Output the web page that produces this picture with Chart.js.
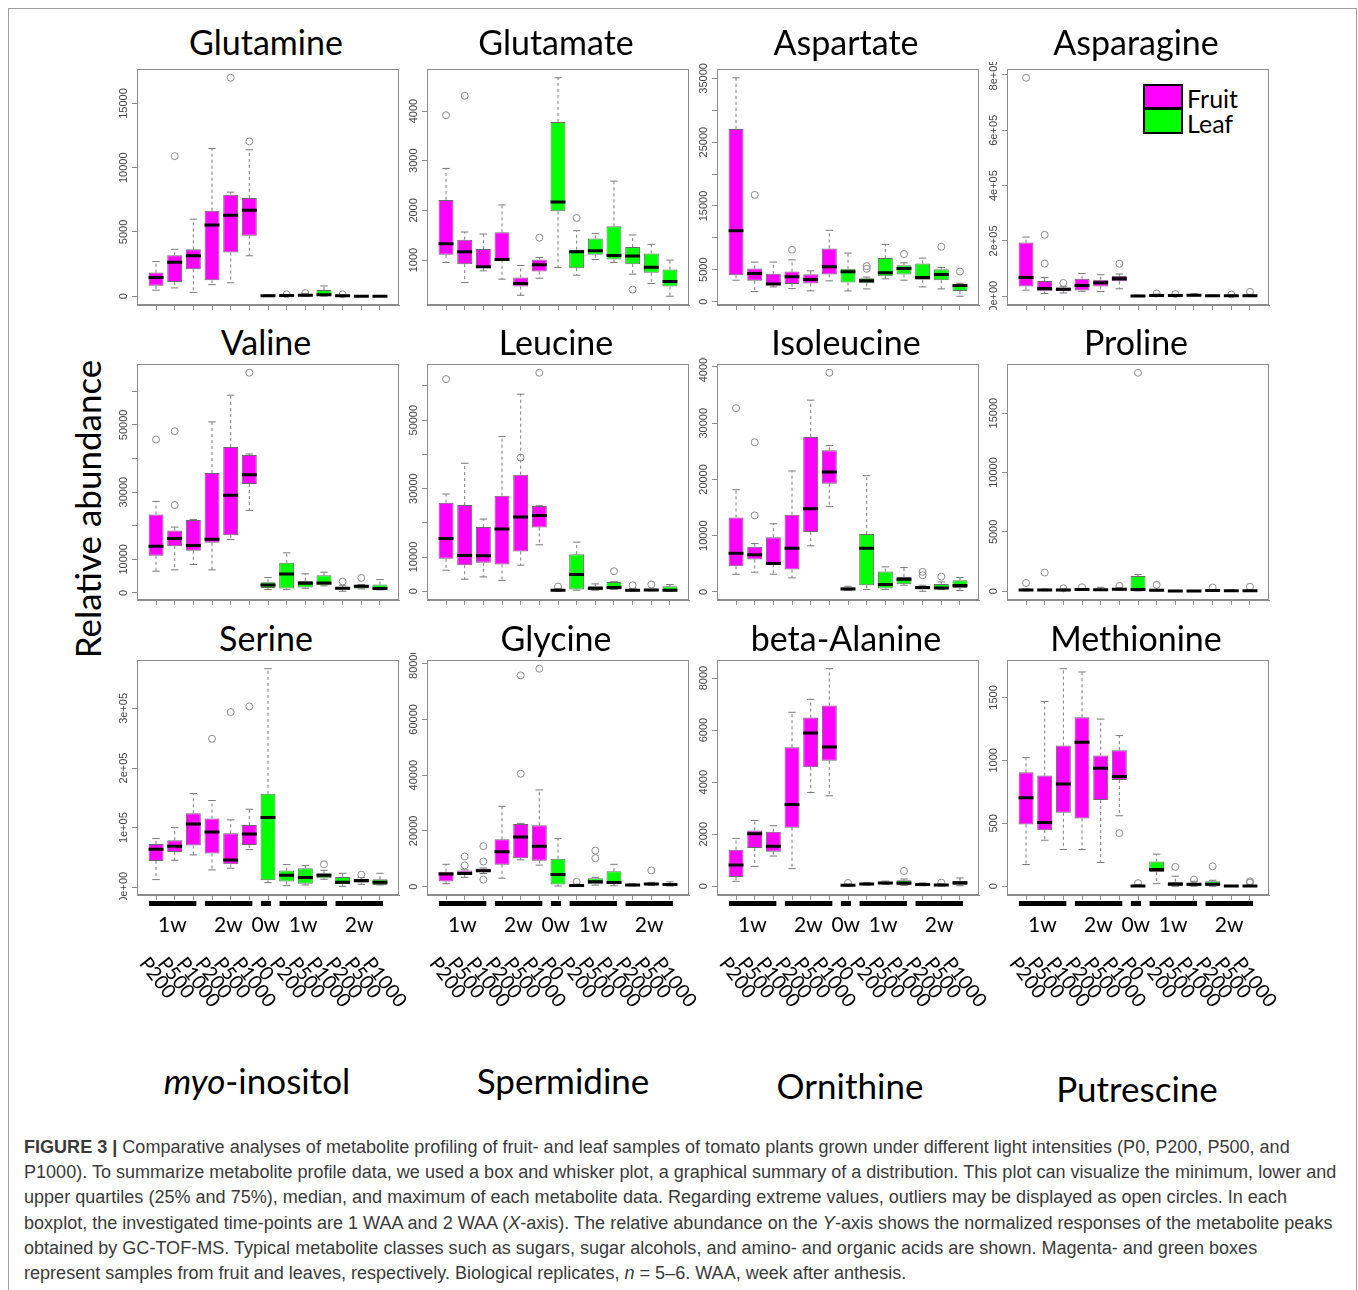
<!DOCTYPE html>
<html>
<head>
<meta charset="utf-8">
<title>Figure 3 – metabolite boxplots</title>
<script src="https://cdn.jsdelivr.net/npm/chart.js@4.4.1/dist/chart.umd.min.js"></script>
<style>
html,body{margin:0;padding:0;background:#fff;}
body{position:relative;width:1358px;height:1290px;overflow:hidden;}
#frame{position:absolute;left:8px;top:8px;width:1349px;height:1400px;border:1px solid #a0a0a0;box-sizing:border-box;}
canvas{position:absolute;}
.ttl{position:absolute;width:300px;height:44px;line-height:44px;text-align:center;font-family:Lato,"Noto Sans",sans-serif;font-size:34px;color:#000;white-space:nowrap;}
.big{position:absolute;font-family:Lato,"Noto Sans",sans-serif;font-size:35px;color:#000;white-space:nowrap;transform:translate(-50%,-50%);}
#ylab{position:absolute;left:87px;top:509px;transform:translate(-50%,-50%) rotate(-90deg);font-family:Lato,"Noto Sans",sans-serif;font-size:35px;white-space:nowrap;color:#000;}
.legbox{position:absolute;left:1143px;width:40px;height:25px;border:2px solid #000;box-sizing:border-box;}
.legtxt{position:absolute;left:1187px;height:26px;line-height:26px;font-family:Lato,"Noto Sans",sans-serif;font-size:25px;color:#000;}
#caption{position:absolute;left:24px;top:1135px;font-family:"Liberation Sans",Arial,sans-serif;color:#3a3a3a;line-height:25.2px;white-space:nowrap;font-size:16px;}
#caption div span{display:inline-block;}
</style>
</head>
<body>
<div id="frame"></div>
<div id="ylab">Relative abundance</div>

<div class="legbox" style="top:84px;background:#ff00ff;"></div>
<div class="legbox" style="top:109px;background:#00ff00;border-top:1px solid #000;"></div>
<div class="legtxt" style="top:85px;">Fruit</div>
<div class="legtxt" style="top:110px;">Leaf</div>

<div class="big" style="left:257px;top:1080px;"><i>myo</i>-inositol</div>
<div class="big" style="left:563px;top:1080px;">Spermidine</div>
<div class="big" style="left:850px;top:1085px;">Ornithine</div>
<div class="big" style="left:1137px;top:1088px;">Putrescine</div>

<div id="caption">
<div><span id="l1"><b>FIGURE 3 |</b> Comparative analyses of metabolite profiling of fruit- and leaf samples of tomato plants grown under different light intensities (P0, P200, P500, and</span></div>
<div><span id="l2">P1000). To summarize metabolite profile data, we used a box and whisker plot, a graphical summary of a distribution. This plot can visualize the minimum, lower and</span></div>
<div><span>upper quartiles (25% and 75%), median, and maximum of each metabolite data. Regarding extreme values, outliers may be displayed as open circles. In each</span></div>
<div><span>boxplot, the investigated time-points are 1 WAA and 2 WAA (<i>X</i>-axis). The relative abundance on the <i>Y</i>-axis shows the normalized responses of the metabolite peaks</span></div>
<div><span>obtained by GC-TOF-MS. Typical metabolite classes such as sugars, sugar alcohols, and amino- and organic acids are shown. Magenta- and green boxes</span></div>
<div><span>represent samples from fruit and leaves, respectively. Biological replicates, <i>n</i> = 5–6. WAA, week after anthesis.</span></div>
</div>

<script>
// ---------------- DATA ----------------
const CATEGORIES = ['P200','P500','P1000','P200','P500','P1000','P0','P200','P500','P1000','P200','P500','P1000'];
const TISSUE = ['Fruit','Fruit','Fruit','Fruit','Fruit','Fruit','Leaf','Leaf','Leaf','Leaf','Leaf','Leaf','Leaf'];
const GROUP_LABELS = ['1w','2w','0w','1w','2w'];
const GROUP_START = [0,3,6,7,10];
const GROUP_END = [2,5,6,9,12];

// each row: [min, q1, median, q3, max]
const glutamine = [[470,810,1450,1840,2700],[650,1100,2650,3200,3650],[300,2100,3150,3650,6000],[900,1250,5550,6650,11500],[1050,3400,6300,7900,8100],[3150,4700,6700,7650,11400],[0,0,30,60,120],[10,20,50,80,100],[10,30,80,150,200],[10,20,120,480,800],[0,10,30,60,100],[0,5,10,20,30],[0,5,10,20,30]];
const glutamineOut = [[],[10900],[],[],[17000],[12050],[],[150],[250],[],[150],[],[]];
const glutamineTicks = [0,5000,10000,15000];
const glutamineTickLabels = ['0','5000','10000','15000'];

const glutamate = [[951,1106,1328,2211,2845],[546,917,1166,1410,1564],[782,836,863,1220,1524],[614,1005,1011,1557,2110],[290,465,526,647,890],[634,769,903,1011,1052],[850,1982,2171,3782,4672],[694,836,1166,1207,1591],[1011,1106,1187,1436,1537],[951,1011,1092,1679,2589],[715,917,1079,1261,1503],[526,742,856,1133,1315],[270,465,566,809,998]];
const glutamateOut = [[3917],[4308],[],[],[],[1450],[],[1847],[],[],[405],[],[]];
const glutamateTicks = [1000,2000,3000,4000];
const glutamateTickLabels = ['1000','2000','3000','4000'];

const aspartate = [[3358,4145,11124,27075,35102],[1574,3253,4407,5195,6191],[2300,2600,2750,4350,6200],[2046,2781,3883,4722,6559],[1679,2833,3463,4303,4827],[3253,4250,5457,8343,11176],[1679,2991,4670,5142,7608],[1994,2886,3253,3673,3850],[3568,3988,4512,6821,8972],[3358,4250,5195,5719,6087],[2309,3411,3778,5982,6821],[1994,3358,4250,5090,5352],[840,1679,2519,2676,2886]];
const aspartateOut = [[],[16738],[],[8133],[],[],[],[5142,5562],[],[7451],[],[8605],[4722]];
const aspartateTicks = [0,5000,10000,15000,20000,25000,30000,35000];
const aspartateTickLabels = ['0','5000','','15000','','25000','','35000'];

const asparagine = [[22000,35000,68000,194000,214000],[10000,18000,28000,55000,68000],[12000,18000,25000,32000,36000],[18000,21000,39000,63000,82000],[17000,35500,49000,60000,78000],[27000,54000,63600,73400,80700],[0,500,1000,2500,4000],[500,1500,3000,6000,8000],[500,1500,3000,5000,7000],[1000,2000,4000,7000,9000],[0,500,1500,3000,4000],[0,500,2000,4000,5000],[500,1000,2000,5000,7000]];
const asparagineOut = [[790000],[118000,222000],[48000],[],[],[117400],[],[10000],[8000],[],[],[6500],[16000]];
const asparagineTicks = [0,200000,400000,600000,800000];
const asparagineTickLabels = ['0e+00','2e+05','4e+05','6e+05','8e+05'];

const valine = [[6461,11033,13916,23359,27236],[6859,13916,16202,18588,19582],[8449,12524,14115,21669,21868],[6859,14910,16003,35685,50893],[15904,17196,29025,43438,58845],[24552,32404,35188,41052,41350],[994,1491,2386,3181,4572],[994,1292,5666,8946,11928],[1392,1590,2883,3579,5666],[2100,2286,2982,5268,6163],[497,994,1392,1789,2286],[1200,1292,1988,2286,2485],[900,994,1292,2485,3976]];
const valineOut = [[45625],[26142,48110],[],[],[],[65505],[],[],[],[],[3380],[4473],[]];
const valineTicks = [0,10000,20000,30000,40000,50000,60000];
const valineTickLabels = ['0','10000','','30000','','50000',''];

const leucine = [[6153,9473,15430,25880,28419],[3516,7617,10450,25196,37404],[4199,8301,10352,18751,21095],[3125,7813,18165,27931,45217],[7617,11622,21681,34083,57620],[13575,18653,22169,24903,25000],[0,0,293,586,781],[293,488,4883,10840,14356],[293,293,879,1465,2149],[488,488,1074,2734,2800],[0,0,293,488,781],[100,195,391,488,586],[0,0,293,1465,1953]];
const leucineOut = [[62014],[],[],[],[39064],[63870],[1367],[],[],[5860],[1758],[1953],[]];
const leucineTicks = [0,10000,20000,30000,40000,50000,60000];
const leucineTickLabels = ['0','10000','','30000','','50000',''];

const isoleucine = [[3149,4575,6892,13248,18180],[3505,5763,6595,8020,8614],[3149,4931,5050,9743,12120],[2495,3980,7783,13724,21506],[8199,10634,14793,27566,34101],[15209,19249,21328,25190,26022],[297,297,535,832,1010],[416,1188,7783,10278,20675],[416,594,1307,3624,4456],[1188,1366,2258,2673,4337],[119,416,772,1010,1188],[416,535,713,1426,1782],[238,713,1129,2079,2555]];
const isoleucineOut = [[32676],[13605,26616],[],[],[],[38973],[],[],[],[],[2970,3565],[2733],[]];
const isoleucineTicks = [0,10000,20000,30000,40000];
const isoleucineTickLabels = ['0','10000','20000','30000','40000'];

const proline = [[40,60,110,150,200],[50,70,110,150,190],[40,60,100,150,200],[70,100,150,180,220],[60,80,130,170,330],[60,90,170,250,300],[20,56,141,1294,1407],[30,50,90,120,150],[0,10,30,50,70],[0,10,30,50,70],[10,20,60,100,130],[0,10,40,70,100],[0,20,50,90,130]];
const prolineOut = [[700],[1580],[250],[340],[],[450],[18400],[530],[],[],[320],[],[380]];
const prolineTicks = [0,5000,10000,15000];
const prolineTickLabels = ['0','5000','10000','15000'];

const serine = [[12873,44216,63806,72761,81716],[45336,59328,68843,78918,100187],[54291,69963,106343,124253,157276],[29104,56530,92910,115298,145522],[31903,38619,45895,90671,113059],[63246,71082,89552,104664,130970],[7836,11754,116977,156716,366604],[2799,9515,20149,27985,38060],[3918,6157,16231,31903,36381],[13433,15112,20149,23507,28545],[1679,5037,8396,17351,23507],[5037,7836,11194,13433,16231],[3918,3918,8396,13433,23507]];
const serineOut = [[],[],[],[249067],[293843],[303357],[],[],[],[38619],[],[21269],[]];
const serineTicks = [0,100000,200000,300000];
const serineTickLabels = ['0e+00','1e+05','2e+05','3e+05'];

const glycine = [[1000,1800,4500,5300,8000],[3300,4200,4700,5800,6000],[4700,5300,5700,6500,6700],[3000,7800,12500,17000,28800],[9600,10200,17800,22500,22700],[7700,9300,14500,22000,34700],[200,700,4300,10000,17200],[100,200,400,700,900],[500,800,1700,3000,3300],[300,1000,1500,5500,8000],[200,300,600,800,1000],[400,600,900,1200,1500],[200,400,700,1000,1700]];
const glycineOut = [[],[7600,10800],[2500,9000,14500],[],[40500,75800],[78200],[],[1700],[10200,12900],[],[],[5800],[]];
const glycineTicks = [0,20000,40000,60000,80000];
const glycineTickLabels = ['0','20000','40000','60000','80000'];

const betaAlanine = [[192,358,818,1406,1840],[767,1470,2019,2147,2530],[1163,1329,1534,2096,2326],[677,2249,3144,5342,6684],[3604,4575,5892,6479,7182],[3476,4818,5355,6940,8358],[0,0,38,64,90],[40,60,90,120,150],[70,100,130,170,200],[30,50,128,230,280],[20,40,70,100,130],[10,30,50,80,100],[20,51,140,217,320]];
const betaAlanineOut = [[],[],[],[],[],[],[128],[],[],[588],[],[140],[]];
const betaAlanineTicks = [0,2000,4000,6000,8000];
const betaAlanineTickLabels = ['0','2000','4000','6000','8000'];

const methionine = [[173,491,704,905,1022],[366,446,507,879,1468],[292,584,812,1118,1728],[292,539,1144,1343,1702],[189,685,937,1038,1328],[560,844,871,1081,1197],[0,0,3,8,15],[21,114,133,196,255],[0,5,16,35,80],[0,3,16,24,40],[0,5,16,40,48],[0,0,2,4,6],[0,0,3,8,10]];
const methionineOut = [[],[],[],[],[],[422],[25],[],[154],[53],[159],[],[29,40]];
const methionineTicks = [0,500,1000,1500];
const methionineTickLabels = ['0','500','1000','1500'];

const PANELS = [
  {name:'Glutamine', stats:glutamine, out:glutamineOut, ticks:glutamineTicks, labels:glutamineTickLabels},
  {name:'Glutamate', stats:glutamate, out:glutamateOut, ticks:glutamateTicks, labels:glutamateTickLabels},
  {name:'Aspartate', stats:aspartate, out:aspartateOut, ticks:aspartateTicks, labels:aspartateTickLabels},
  {name:'Asparagine', stats:asparagine, out:asparagineOut, ticks:asparagineTicks, labels:asparagineTickLabels},
  {name:'Valine', stats:valine, out:valineOut, ticks:valineTicks, labels:valineTickLabels},
  {name:'Leucine', stats:leucine, out:leucineOut, ticks:leucineTicks, labels:leucineTickLabels},
  {name:'Isoleucine', stats:isoleucine, out:isoleucineOut, ticks:isoleucineTicks, labels:isoleucineTickLabels},
  {name:'Proline', stats:proline, out:prolineOut, ticks:prolineTicks, labels:prolineTickLabels},
  {name:'Serine', stats:serine, out:serineOut, ticks:serineTicks, labels:serineTickLabels},
  {name:'Glycine', stats:glycine, out:glycineOut, ticks:glycineTicks, labels:glycineTickLabels},
  {name:'beta-Alanine', stats:betaAlanine, out:betaAlanineOut, ticks:betaAlanineTicks, labels:betaAlanineTickLabels},
  {name:'Methionine', stats:methionine, out:methionineOut, ticks:methionineTicks, labels:methionineTickLabels}
];

// ---------------- LAYOUT / STYLE ----------------
const COL_LEFT = [137, 427, 717, 1007];
const ROW_TOP = [69, 364, 660];
const ROW_H = [236, 236, 235];
const TITLE_Y = [42, 342, 638];
const PLOT_W = 262;
const FRUIT_COLOR = '#ff00ff';
const LEAF_COLOR = '#00ff00';
const LINE_GRAY = '#7a7a7a';
const FRAME_GRAY = '#8c8c8c';

function drawPanel(panel, idx) {
  const col = idx % 4, row = Math.floor(idx / 4);
  const padL = 46, padT = 7, padR = 44;
  const plotH = ROW_H[row];
  const extraB = row === 2 ? 128 : 12;
  const W = padL + PLOT_W + padR, H = padT + plotH + extraB;

  const t = document.createElement('div');
  t.className = 'ttl';
  t.textContent = panel.name;
  t.style.left = (COL_LEFT[col] + 129 - 150) + 'px';
  t.style.top = (TITLE_Y[row] - 22) + 'px';
  document.body.appendChild(t);

  const cv = document.createElement('canvas');
  cv.width = W; cv.height = H;
  cv.style.width = W + 'px'; cv.style.height = H + 'px';
  cv.style.left = (COL_LEFT[col] - padL) + 'px';
  cv.style.top = (ROW_TOP[row] - padT) + 'px';
  document.body.appendChild(cv);

  const st = panel.stats, n = st.length;
  let lo = Infinity, hi = -Infinity;
  st.forEach((s, i) => {
    lo = Math.min(lo, s[0]); hi = Math.max(hi, s[4]);
    panel.out[i].forEach(v => { lo = Math.min(lo, v); hi = Math.max(hi, v); });
  });
  const ext = (hi - lo) * 0.04;
  const xExt = n * 0.04;

  const boxData = st.map((s, i) => ({x: i + 1, y: [s[1], s[3]]}));
  const boxColors = TISSUE.map(tt => tt === 'Fruit' ? FRUIT_COLOR : LEAF_COLOR);
  const whiskers = [], caps = [], medians = [], outliers = [];
  st.forEach((s, i) => {
    const x = i + 1;
    whiskers.push({x, y: s[3]}, {x, y: s[4]}, {x, y: null}, {x, y: s[1]}, {x, y: s[0]}, {x, y: null});
    caps.push({x: x - 0.2, y: s[4]}, {x: x + 0.2, y: s[4]}, {x: x + 0.2, y: null},
              {x: x - 0.2, y: s[0]}, {x: x + 0.2, y: s[0]}, {x: x + 0.2, y: null});
    medians.push({x: x - 0.4, y: s[2]}, {x: x + 0.4, y: s[2]}, {x: x + 0.4, y: null});
    panel.out[i].forEach(v => outliers.push({x, y: v}));
  });
  const xTickVals = st.map((s, i) => i + 1);

  const deco = {
    id: 'deco' + idx,
    afterDraw(chart) {
      const {ctx, chartArea: ca, scales} = chart;
      const xs = scales.x, ys = scales.y;
      ctx.save();
      ctx.strokeStyle = FRAME_GRAY; ctx.lineWidth = 1;
      ctx.strokeRect(Math.round(ca.left) + 0.5, Math.round(ca.top) + 0.5,
                     Math.round(ca.right - ca.left) - 1, Math.round(ca.bottom - ca.top) - 1);
      ctx.restore();

      ctx.save();
      ctx.beginPath();
      ctx.rect(0, ca.top - 7, ca.left, ca.bottom - ca.top + 12);
      ctx.clip();
      ctx.fillStyle = '#444';
      ctx.font = '11px "Liberation Sans", Arial, sans-serif';
      ctx.textAlign = 'center'; ctx.textBaseline = 'middle';
      panel.ticks.forEach((v, k) => {
        const lab = panel.labels[k];
        if (!lab) return;
        const py = ys.getPixelForValue(v);
        ctx.save();
        ctx.translate(ca.left - 13, py);
        ctx.rotate(-Math.PI / 2);
        ctx.fillText(lab, 0, 0);
        ctx.restore();
      });
      ctx.restore();

      if (row === 2) {
        ctx.save();
        ctx.fillStyle = '#000';
        GROUP_START.forEach((g, k) => {
          const x1 = xs.getPixelForValue(g + 1 - 0.38);
          const x2 = xs.getPixelForValue(GROUP_END[k] + 1 + 0.16);
          ctx.fillRect(x1, ca.bottom + 6, x2 - x1, 5);
        });
        ctx.font = '21px Lato, "Noto Sans", sans-serif';
        ctx.textAlign = 'center'; ctx.textBaseline = 'middle';
        GROUP_LABELS.forEach((l, k) => {
          const cx = xs.getPixelForValue((GROUP_START[k] + GROUP_END[k]) / 2 + 1 - 0.12);
          ctx.fillText(l, cx, ca.bottom + 30);
        });
        ctx.font = '19.5px Lato, "Noto Sans", sans-serif';
        ctx.textAlign = 'left'; ctx.textBaseline = 'top';
        CATEGORIES.forEach((c, i) => {
          ctx.save();
          ctx.translate(xs.getPixelForValue(i + 1) - 5, ca.bottom + 59);
          ctx.rotate(52 * Math.PI / 180);
          ctx.fillText(c, 0, 0);
          ctx.restore();
        });
        ctx.restore();
      }
    }
  };

  const lineCommon = {type: 'line', pointRadius: 0, pointHoverRadius: 0, pointHitRadius: 0,
                      fill: false, tension: 0, spanGaps: false};

  new Chart(cv, {
    type: 'bar',
    data: {
      datasets: [
        {type: 'bar', label: 'box', data: boxData, backgroundColor: boxColors,
         borderColor: '#6a6a6a', borderWidth: 1, borderSkipped: false,
         barPercentage: 0.8, categoryPercentage: 1.0, order: 2},
        Object.assign({label: 'whisker', data: whiskers, borderColor: LINE_GRAY, borderWidth: 1,
         borderDash: [3, 3], order: 4}, lineCommon),
        Object.assign({label: 'cap', data: caps, borderColor: LINE_GRAY, borderWidth: 1, order: 3}, lineCommon),
        Object.assign({label: 'median', data: medians, borderColor: '#000', borderWidth: 3,
         borderCapStyle: 'butt', order: 0}, lineCommon),
        {type: 'scatter', label: 'outlier', data: outliers, pointStyle: 'circle', pointRadius: 3.5,
         pointHoverRadius: 3.5, backgroundColor: 'rgba(0,0,0,0)', borderColor: '#8a8a8a',
         borderWidth: 1, showLine: false, order: 1}
      ]
    },
    options: {
      responsive: false, animation: false, events: [],
      layout: {padding: {left: 0, top: padT, right: padR, bottom: 0}},
      plugins: {legend: {display: false}, tooltip: {enabled: false}, title: {display: false}},
      scales: {
        x: {type: 'linear', min: 0.5 - xExt, max: n + 0.5 + xExt, offset: false,
            grid: {offset: false, drawOnChartArea: false, drawTicks: true, tickLength: 5, color: FRAME_GRAY},
            border: {display: true, color: FRAME_GRAY},
            ticks: {display: false},
            afterBuildTicks: s => { s.ticks = xTickVals.map(v => ({value: v})); },
            afterFit: s => { s.height = extraB; }},
        y: {type: 'linear', min: lo - ext, max: hi + ext, beginAtZero: false,
            grid: {drawOnChartArea: false, drawTicks: true, tickLength: 5, color: FRAME_GRAY},
            border: {display: true, color: FRAME_GRAY},
            ticks: {display: false},
            afterBuildTicks: s => { s.ticks = panel.ticks.map(v => ({value: v})); },
            afterFit: s => { s.width = padL; }}
      }
    },
    plugins: [deco]
  });
}

PANELS.forEach(drawPanel);

// fit caption font so that the second (full) line spans the reference width
(function () {
  const cap = document.getElementById('caption');
  const probe = document.getElementById('l2');
  const w = probe.getBoundingClientRect().width;
  if (w > 0) cap.style.fontSize = (16 * 1314 / w).toFixed(3) + 'px';
})();
</script>
</body>
</html>
